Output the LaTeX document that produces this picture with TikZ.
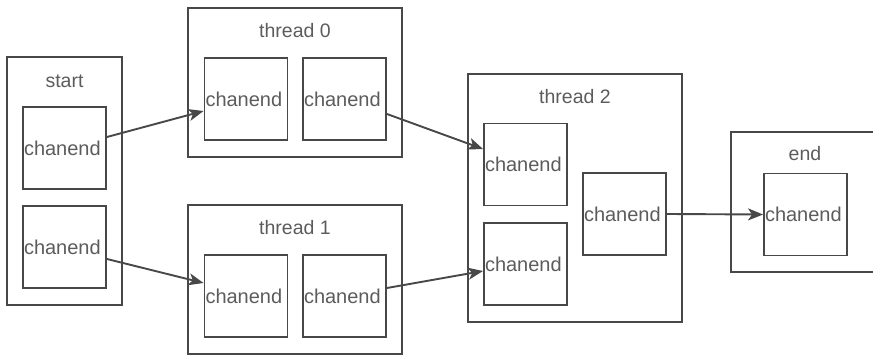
\documentclass[tikz,border=0pt]{standalone}
\usepackage{fontspec}
\setmainfont{Liberation Sans}
\usetikzlibrary{arrows.meta}
\definecolor{edge}{HTML}{484848}
\definecolor{ink}{HTML}{5C5C5C}
\tikzset{
  group/.style={draw=edge, line width=1.9pt, inner sep=0pt},
  chan/.style={draw=edge, line width=1.9pt, minimum width=83pt, minimum height=82pt,
    inner sep=1pt, text=ink, font=\fontsize{20}{22}\selectfont, text width=81pt, align=left},
  title/.style={text=ink, font=\fontsize{19.5}{21}\selectfont, inner sep=0pt},
  link/.style={draw=edge, line width=1.9pt, -{Stealth[length=15pt,width=12pt,inset=4pt]}}
}
\begin{document}
\begin{tikzpicture}[x=1pt,y=-1pt]
\useasboundingbox (0,0) rectangle (873,355);
\clip (0,0) rectangle (873,355);
% outer groups
\node[group, minimum width=115pt, minimum height=248pt] (start) at (64.5,181) {};
\node[group, minimum width=214pt, minimum height=149pt] (th0) at (295,82.5) {};
\node[group, minimum width=214pt, minimum height=149pt] (th1) at (295,279.5) {};
\node[group, minimum width=214pt, minimum height=248pt] (th2) at (575,198) {};
\node[group, minimum width=149pt, minimum height=140pt] (fin) at (805.5,202) {};
% group titles
\node[title] (tstart) at (64.5,81) {start};
\node[title] (tth0) at (295,31) {thread 0};
\node[title] (tth1) at (295,228) {thread 1};
\node[title] (tth2) at (575,97) {thread 2};
\node[title] (tfin) at (805,154) {end};
% channel ends
\node[chan] (s1) at (64.5,148) {chanend};
\node[chan] (s2) at (64.5,247) {chanend};
\node[chan] (a0) at (246,99) {chanend};
\node[chan] (b0) at (344.5,99) {chanend};
\node[chan] (a1) at (246,296) {chanend};
\node[chan] (b1) at (344.5,296) {chanend};
\node[chan] (a2) at (525.5,164.5) {chanend};
\node[chan] (b2) at (525.5,264) {chanend};
\node[chan] (c2) at (624.5,214) {chanend};
\node[chan] (e1) at (805.5,214.5) {chanend};
% connections
\draw[link] ([yshift=11pt]s1.east) -- ([yshift=-12pt]a0.west);
\draw[link] ([yshift=-12pt]s2.east) -- ([yshift=13pt]a1.west);
\draw[link] ([yshift=-15pt]b0.east) -- ([yshift=15.5pt]a2.west);
\draw[link] ([yshift=8pt]b1.east) -- ([yshift=-7pt]b2.west);
\draw[link] (c2.east) -- (e1.west);
\end{tikzpicture}
\end{document}
